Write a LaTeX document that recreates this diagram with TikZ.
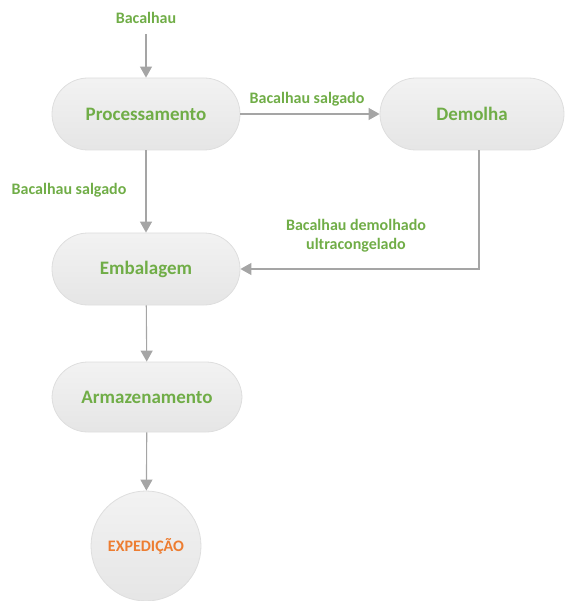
\documentclass[tikz,border=0pt]{standalone}
\usepackage{fontspec}
\setmainfont{Carlito}
\usetikzlibrary{arrows.meta,positioning}
\definecolor{verde}{HTML}{70AD47}
\definecolor{laranja}{HTML}{ED7D31}
\definecolor{seta}{HTML}{A5A5A5}

\begin{document}
\begin{tikzpicture}[x=1pt,y=-1pt,>={Triangle[width=12pt,length=11pt]},
  etapa/.style={draw=black!13,line width=0.8pt,rounded corners=36pt,minimum width=188pt,minimum height=72pt,inner sep=0,
    top color=black!5,bottom color=black!10,text=verde,font=\fontsize{19}{21}\selectfont\bfseries},
  fim/.style={circle,draw=black!13,line width=0.8pt,minimum size=110pt,inner sep=0,
    top color=black!5,bottom color=black!10,text=laranja,font=\fontsize{16}{18}\selectfont\bfseries},
  rotulo/.style={text=verde,font=\fontsize{16}{19}\selectfont\bfseries,align=center,inner sep=0},
  fluxo/.style={->,draw=seta,line width=1.1pt}]
\useasboundingbox (0,0) rectangle (564,601);
% etapas
\node[rotulo] (entrada) at (146,18) {Bacalhau};
\node[etapa] (proc) at (146,114) {Processamento};
\node[etapa,minimum width=184pt] (demolha) at (472,114) {Demolha};
\node[etapa] (emb) at (146,269) {Embalagem};
\node[etapa,minimum width=190pt,minimum height=70pt] (armaz) at (147,397) {Armazenamento};
\node[fim] (exped) at (146,546) {EXPEDIÇÃO};
% rotulos
\node[rotulo] (r1) at (307,99) {Bacalhau salgado};
\node[rotulo] (r2) at (69,190) {Bacalhau salgado};
\node[rotulo] (r3) at (356,236) {Bacalhau demolhado\\ultracongelado};
% ligacoes
\draw[fluxo] ([yshift=-10pt]entrada.south) -- (proc.north);
\draw[fluxo] (proc) -- (demolha);
\draw[fluxo] (proc) -- (emb);
\draw[fluxo] ([xshift=7pt]demolha.south) |- (emb.east);
\draw[fluxo] (emb) -- (armaz);
\draw[fluxo] (armaz) -- (exped);
\end{tikzpicture}
\end{document}
